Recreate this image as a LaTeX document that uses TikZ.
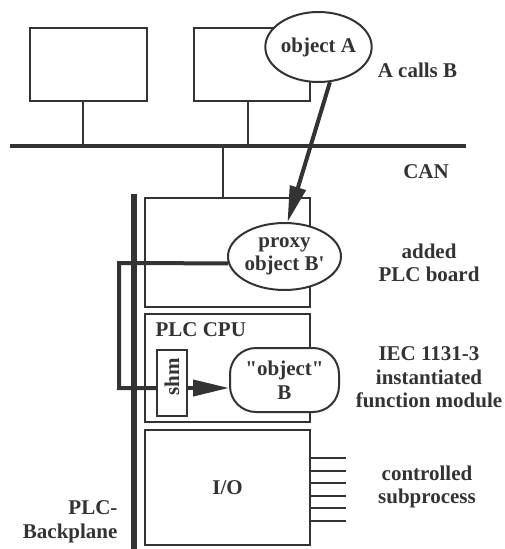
\documentclass[tikz,border=0pt]{standalone}
\usepackage{fontspec}
\setmainfont{Liberation Serif}[BoldFont={Liberation Serif Bold}, Ligatures=TeXReset]
\usetikzlibrary{shapes.geometric,arrows.meta}
\definecolor{ink}{HTML}{333333}
\tikzset{
  every node/.style={font=\fontsize{21}{23.5}\selectfont\bfseries, text=ink},
  box/.style={draw=ink, line width=2pt, fill=white, inner sep=0pt},
  obj/.style={draw=ink, line width=2pt, fill=white, ellipse, inner sep=0pt, align=center},
  thin/.style={draw=ink, line width=2pt},
  heavy/.style={draw=ink, line width=4pt},
  bigarrow/.style={draw=ink, line width=4pt, -{Triangle[length=36pt,width=16pt]}},
  lbl/.style={align=center}
}
\begin{document}
\begin{tikzpicture}[x=1pt,y=-1pt]
\useasboundingbox (0,0) rectangle (505,549);
% CAN bus
\coordinate (canL) at (10,146);
\coordinate (canR) at (466,146);
\draw[draw=ink, line width=4pt] (canL) -- (canR);
% top boxes
\node[box, minimum width=117pt, minimum height=73pt] (box1) at (88.5,64.5) {};
\node[box, minimum width=116pt, minimum height=73pt] (box2) at (252,64.5) {};
\coordinate (s1t) at (83,101); \coordinate (s1b) at (83,146);
\coordinate (s2t) at (248,101); \coordinate (s2b) at (248,146);
\draw[thin] (s1t) -- (s1b);
\draw[thin] (s2t) -- (s2b);
% backplane
\coordinate (bpT) at (134,194);
\coordinate (bpB) at (134,549);
\draw[draw=ink, line width=6pt] (bpT) -- (bpB);
% PLC boxes
\node[box, minimum width=165pt, minimum height=109pt] (board) at (227.5,252.5) {};
\node[box, minimum width=165pt, minimum height=108pt] (cpu) at (227.5,368) {};
\node[box, minimum width=165pt, minimum height=115pt] (io) at (227.5,487.5) {I/O};
\coordinate (s3t) at (223,146);
\draw[thin] (s3t) -- (s3t |- board.north);
% object A
\node[obj, minimum width=103pt, minimum height=70pt] (objA) at (318.5,47) {object A};
% proxy
\node[obj, minimum width=111pt, minimum height=67pt] (proxy) at (284.5,256.5) {proxy\\object B'};
% PLC CPU label
\node[anchor=west] (cpulbl) at (152,330) {PLC CPU};
% shm
\node[box, minimum width=30pt, minimum height=66pt] (shm) at (172,383) {};
\node[rotate=90] (shmtxt) at (172,377) {shm};
% object B
\node[box, rounded corners=26pt, minimum width=109pt, minimum height=64pt, align=center] (objB) at (284.5,380) {"object"\\B};
% arrows
\draw[bigarrow] (objA.-72) -- (proxy.85);
\coordinate (lt) at (119,263);
\coordinate (lb) at (119,388);
\draw[heavy] (proxy.187) -- (lt) -- (lb) -- (lb -| shm.west);
\coordinate (ar) at (187,388);
\draw[bigarrow] (ar) -- (ar -| objB.west);
% I/O lines
\foreach \i in {0,...,5} {
  \coordinate (ioa\i) at (310,458+12.6*\i);
  \coordinate (iob\i) at (346,458+12.6*\i);
  \draw[thin] (ioa\i) -- (iob\i);
}
% labels
\node[lbl] (lA) at (417.5,70) {A calls B};
\node[lbl] (lCAN) at (426,172) {CAN};
\node[lbl] (lboard) at (429,263) {added\\PLC board};
\node[lbl] (liec) at (429,377.5) {IEC 1131-3\\instantiated\\function module};
\node[lbl] (lsub) at (427,487) {controlled\\subprocess};
\node[align=right, anchor=east] (lbp) at (121,522) {PLC-\\Backplane};
\end{tikzpicture}
\end{document}
